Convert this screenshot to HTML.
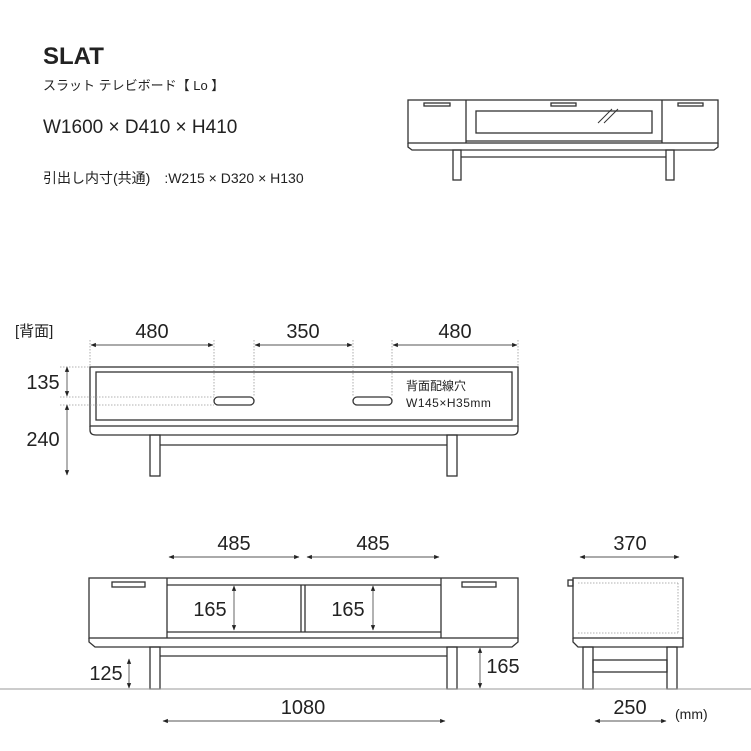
<!DOCTYPE html>
<html><head><meta charset="utf-8"><style>
html,body{margin:0;padding:0;background:#fff;}
svg{display:block;font-family:"Liberation Sans","Noto Sans CJK JP",sans-serif;}
</style></head><body>
<svg width="751" height="751" viewBox="0 0 751 751" xmlns="http://www.w3.org/2000/svg">
<defs>
<marker id="a" viewBox="0 0 10 10" refX="9" refY="5" markerWidth="6" markerHeight="6" orient="auto-start-reverse"><path d="M0,1 L10,5 L0,9 z" fill="#222"/></marker>
</defs>
<g fill="#222">
<text x="43" y="64" font-size="24" font-weight="bold">SLAT</text>
<text x="43" y="90" font-size="13">スラット テレビボード【 Lo 】</text>
<text x="43" y="133" font-size="19">W1600 × D410 × H410</text>
<text x="43" y="183" font-size="14">引出し内寸(共通)　:W215 × D320 × H130</text>
</g>
<g fill="none" stroke="#333" stroke-width="1.3">
<rect x="408" y="100" width="310" height="43"/>
<path d="M408,143 L408,147 L412,150 L714,150 L718,147 L718,143"/>
<line x1="466" y1="100" x2="466" y2="143"/><line x1="662" y1="100" x2="662" y2="143"/>
<line x1="466" y1="141" x2="662" y2="141"/>
<rect x="476" y="111" width="176" height="22"/>
<rect x="424" y="103" width="26" height="3"/><rect x="551" y="103" width="25" height="3"/><rect x="678" y="103" width="25" height="3"/>
<line x1="598" y1="123" x2="612" y2="109" stroke-width="1"/><line x1="604" y1="123" x2="618" y2="109" stroke-width="1"/>
<rect x="453" y="150" width="8" height="30"/><rect x="666" y="150" width="8" height="30"/>
<line x1="461" y1="157" x2="666" y2="157"/>
<rect x="90" y="367" width="428" height="59"/>
<rect x="96" y="372" width="416" height="48"/>
<path d="M90,426 L90,430 Q90,435 96,435 L512,435 Q518,435 518,430 L518,426"/>
<rect x="150" y="435" width="10" height="41"/><rect x="447" y="435" width="10" height="41"/>
<line x1="160" y1="445" x2="447" y2="445"/>
<rect x="214" y="397" width="40" height="8" rx="4"/><rect x="353" y="397" width="39" height="8" rx="4"/>
<rect x="89" y="578" width="429" height="60"/>
<path d="M89,638 L89,642 L95,647 L512,647 L518,642 L518,638"/>
<line x1="167" y1="578" x2="167" y2="638"/><line x1="441" y1="578" x2="441" y2="638"/>
<line x1="167" y1="585" x2="441" y2="585"/><line x1="167" y1="632" x2="441" y2="632"/>
<line x1="301" y1="585" x2="301" y2="632"/><line x1="305" y1="585" x2="305" y2="632"/>
<rect x="112" y="582" width="33" height="5"/><rect x="462" y="582" width="34" height="5"/>
<rect x="150" y="647" width="10" height="42"/><rect x="447" y="647" width="10" height="42"/>
<line x1="160" y1="656" x2="447" y2="656"/>
<rect x="573" y="578" width="110" height="60"/>
<path d="M573,638 L573,642 L578,647 L683,647 L683,638"/>
<rect x="568" y="580" width="5" height="6"/>
<rect x="583" y="647" width="10" height="42"/><rect x="667" y="647" width="10" height="42"/>
<rect x="593" y="660" width="74" height="12"/>
</g>
<g fill="none" stroke="#999" stroke-width="0.8" stroke-dasharray="1.5,1.5">
<line x1="90" y1="340" x2="90" y2="367"/><line x1="214" y1="340" x2="214" y2="397"/>
<line x1="254" y1="340" x2="254" y2="397"/><line x1="353" y1="340" x2="353" y2="397"/>
<line x1="392" y1="340" x2="392" y2="397"/><line x1="518" y1="340" x2="518" y2="367"/>
<line x1="60" y1="367" x2="90" y2="367"/><line x1="60" y1="397" x2="214" y2="397"/><line x1="60" y1="405" x2="214" y2="405"/>
<line x1="578" y1="583" x2="678" y2="583"/><line x1="578" y1="633" x2="678" y2="633"/>
<line x1="678" y1="583" x2="678" y2="633"/>
</g>
<line x1="0" y1="689" x2="751" y2="689" stroke="#999" stroke-width="1"/>
<g stroke="#555" stroke-width="0.9" marker-start="url(#a)" marker-end="url(#a)">
<line x1="91" y1="345" x2="213" y2="345"/><line x1="255" y1="345" x2="352" y2="345"/><line x1="393" y1="345" x2="517" y2="345"/>
<line x1="67" y1="367" x2="67" y2="396"/><line x1="67" y1="405" x2="67" y2="475"/>
<line x1="169" y1="557" x2="299" y2="557"/><line x1="307" y1="557" x2="439" y2="557"/>
<line x1="234" y1="586" x2="234" y2="630"/><line x1="373" y1="586" x2="373" y2="630"/>
<line x1="129" y1="659" x2="129" y2="688"/><line x1="480" y1="648" x2="480" y2="688"/>
<line x1="163" y1="721" x2="445" y2="721"/>
<line x1="580" y1="557" x2="679" y2="557"/><line x1="595" y1="721" x2="666" y2="721"/>
</g>
<g fill="#222" font-size="20" text-anchor="middle">
<text x="152" y="338">480</text><text x="303" y="338">350</text><text x="455" y="338">480</text>
<text x="43" y="389">135</text><text x="43" y="446">240</text>
<text x="234" y="550">485</text><text x="373" y="550">485</text>
<text x="210" y="616">165</text><text x="348" y="616">165</text>
<text x="106" y="680">125</text><text x="503" y="673">165</text>
<text x="303" y="714">1080</text>
<text x="630" y="550">370</text><text x="630" y="714">250</text>
</g>
<g fill="#222">
<text x="15" y="336" font-size="15">[背面]</text>
<text x="406" y="390" font-size="12">背面配線穴</text>
<text x="406" y="407" font-size="12" letter-spacing="0.5">W145×H35mm</text>
<text x="675" y="719" font-size="14">(mm)</text>
</g>
</svg>
</body></html>
